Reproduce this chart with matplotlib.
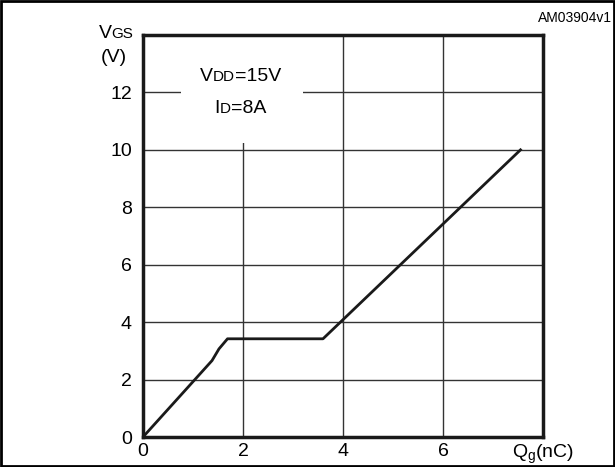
import matplotlib
matplotlib.use("Agg")
import matplotlib.pyplot as plt
from matplotlib.patches import Rectangle
from matplotlib.offsetbox import TextArea, HPacker, AnnotationBbox

plt.rcParams['font.family'] = ['Liberation Sans', 'DejaVu Sans']

# --- gate charge curve ---
qg = [0, 1.38, 1.52, 1.69, 3.6, 7.55]
vgs = [0, 2.66, 3.07, 3.42, 3.42, 10]

xticks = [0, 2, 4, 6, 8]
xtick_labels = ['0', '2', '4', '6', r'Q$_\mathregular{g}$(nC)']
yticks = [0, 2, 4, 6, 8, 10, 12]


def small_caps(ax, xy, big, small, rest='', coords='data', box_align=(0.5, 0.5)):
    # big letter + smaller letters on the same baseline, like the datasheet style
    parts = [TextArea(big, textprops=dict(fontsize=14)),
             TextArea(small, textprops=dict(fontsize=11))]
    if rest:
        parts.append(TextArea(rest, textprops=dict(fontsize=14)))
    pack = HPacker(children=parts, align='baseline', pad=0, sep=0)
    ab = AnnotationBbox(pack, xy, xycoords=coords, frameon=False,
                        box_alignment=box_align, annotation_clip=False, zorder=3)
    ax.add_artist(ab)


fig = plt.figure(figsize=(6.15, 4.67), dpi=100)
ax = fig.add_axes([143 / 615, 1 - 437 / 467, 400 / 615, 402 / 467])

ax.plot(qg, vgs, color='#1a1a1a', lw=2.0, zorder=4)

ax.set_xlim(0, 8)
ax.set_ylim(0, 14)
ax.set_xticks(xticks)
ax.set_xticklabels(xtick_labels)
ax.set_yticks(yticks)
ax.tick_params(length=0, labelsize=14)
ax.tick_params(axis='y', pad=8)
ax.tick_params(axis='x', pad=4)
ax.grid(True, color='#333333', lw=1.0)
ax.set_axisbelow(True)
for s in ax.spines.values():
    s.set_linewidth(2.5)
    s.set_color('#1a1a1a')

# white box behind the conditions text
ax.add_patch(Rectangle((0.75, 10.25), 2.45, 3.75, facecolor='white',
                       edgecolor='none', zorder=2))
small_caps(ax, (1.95, 12.55), 'V', 'DD', '=15V')
small_caps(ax, (1.95, 11.45), 'I', 'D', '=8A')

# y axis label
small_caps(ax, (0.217, 1 - 33 / 467), 'V', 'GS', coords='figure fraction',
           box_align=(1.0, 0.5))
fig.text(0.185, 1 - 57 / 467, '(V)', fontsize=14, ha='center', va='center')

fig.text(0.995, 1 - 18 / 467, 'AM03904v1', fontsize=10, ha='right', va='center')

# frame around the whole picture
fig.patches.append(Rectangle((0.002, 0.003), 0.996, 0.994, transform=fig.transFigure,
                             fill=False, edgecolor='black', lw=2))

fig.savefig('out.png', dpi=100)
